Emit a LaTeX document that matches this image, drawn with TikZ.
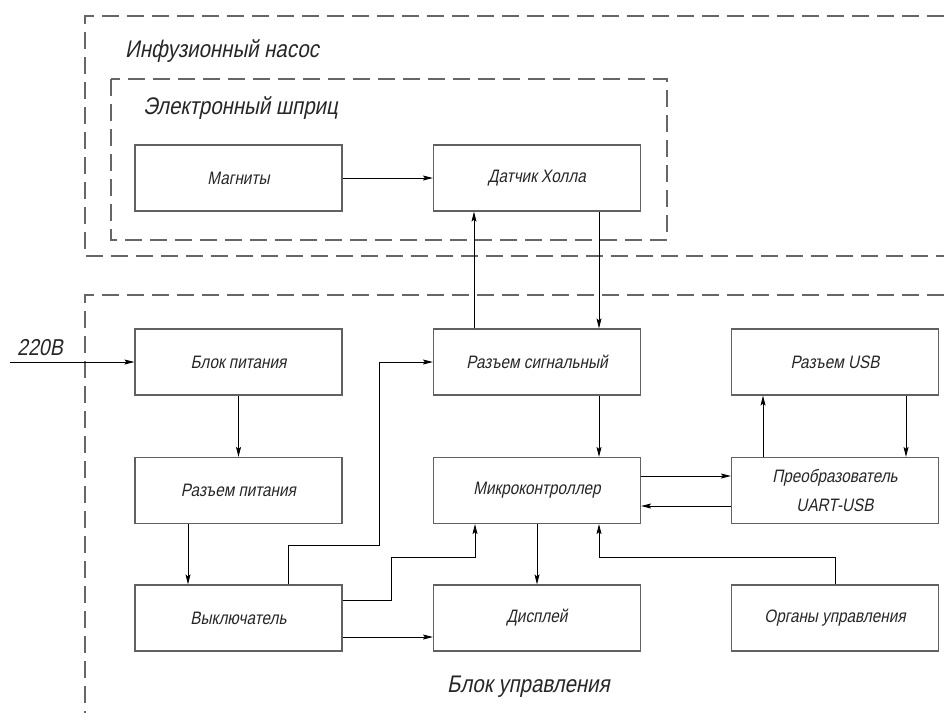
\documentclass[tikz,border=0pt]{standalone}
\usepackage{fontspec}
\newfontfamily\gost[FakeStretch=0.85,FakeSlant=0.2]{Liberation Sans}
\usetikzlibrary{arrows.meta,positioning}

\begin{document}
\begin{tikzpicture}[x=1pt,y=-1pt,
  blk/.style={draw=black!62,line width=1.2pt,minimum width=207pt,minimum height=66pt,
    inner sep=0pt,align=center,font=\gost\fontsize{18}{29}\selectfont,text=black!85},
  frame/.style={draw=black!60,line width=1.1pt,dash pattern=on 17pt off 8pt},
  ttl/.style={anchor=base west,inner sep=0pt,font=\gost\fontsize{24}{26}\selectfont,text=black!85},
  arr/.style={draw=black,line width=0.8pt,-{Stealth[length=10pt,width=5pt,inset=2pt]}}]
  \useasboundingbox (0,0) rectangle (944,713);
  % --- dashed frames ---
  \draw[frame] (944,16) -- (85,16) -- (85,256) -- (944,256);
  \draw[frame] (111,79) rectangle (667,240);
  \draw[frame] (944,295) -- (85,295) -- (85,713);
  \node[ttl] (tpump) at (125,57) {Инфузионный насос};
  \node[ttl] (tsyr) at (143,114) {Электронный шприц};
  \node[ttl] (tctl) at (447,692) {Блок управления};
  % --- blocks ---
  \node[blk] (magn) at (238.5,178) {Магниты};
  \node[blk] (hall) at (537,178) {Датчик Холла};
  \node[blk] (psu) at (238.5,362) {Блок питания};
  \node[blk] (sig) at (537,362) {Разъем сигнальный};
  \node[blk] (usb) at (835,362) {Разъем USB};
  \node[blk] (pwr) at (238.5,490.5) {Разъем питания};
  \node[blk] (mcu) at (537,490.5) {Микроконтроллер};
  \node[blk] (conv) at (835,490.5) {Преобразователь\\UART-USB};
  \node[blk] (sw) at (238.5,618) {Выключатель};
  \node[blk] (disp) at (537,618) {Дисплей};
  \node[blk] (ctrl) at (835,618) {Органы управления};
  % --- mains input ---
  \coordinate (mains) at (10,362);
  \node[ttl,font=\gost\fontsize{23}{25}\selectfont] (v220) at (17,355) {220В};
  \draw[arr] (mains) -- (psu.west);
  % --- connections ---
  \draw[arr] (magn) -- (hall);
  \draw[arr] ([xshift=-63pt]sig.north) -- ([xshift=-63pt]hall.south);
  \draw[arr] ([xshift=62pt]hall.south) -- ([xshift=62pt]sig.north);
  \draw[arr] (psu) -- (pwr);
  \draw[arr] ([xshift=-50.5pt]pwr.south) -- ([xshift=-50.5pt]sw.north);
  \draw[arr] ([xshift=49.5pt]sw.north) |- (379,545) |- (sig.west);
  \draw[arr] ([yshift=18pt]sw.east) -| (391,557) -| ([xshift=-62pt]mcu.south);
  \draw[arr] ([yshift=-19pt]sw.east) -- ([yshift=-19pt]disp.west);
  \draw[arr] ([xshift=62pt]sig.south) -- ([xshift=62pt]mcu.north);
  \draw[arr] (mcu) -- (disp);
  \draw[arr] (ctrl.north) |- (599,557) -- ([xshift=62pt]mcu.south);
  \draw[arr] ([yshift=14.5pt]mcu.east) -- ([yshift=14.5pt]conv.west);
  \draw[arr] ([yshift=-15.5pt]conv.west) -- ([yshift=-15.5pt]mcu.east);
  \draw[arr] ([xshift=-72pt]conv.north) -- ([xshift=-72pt]usb.south);
  \draw[arr] ([xshift=71pt]usb.south) -- ([xshift=71pt]conv.north);
\end{tikzpicture}
\end{document}
